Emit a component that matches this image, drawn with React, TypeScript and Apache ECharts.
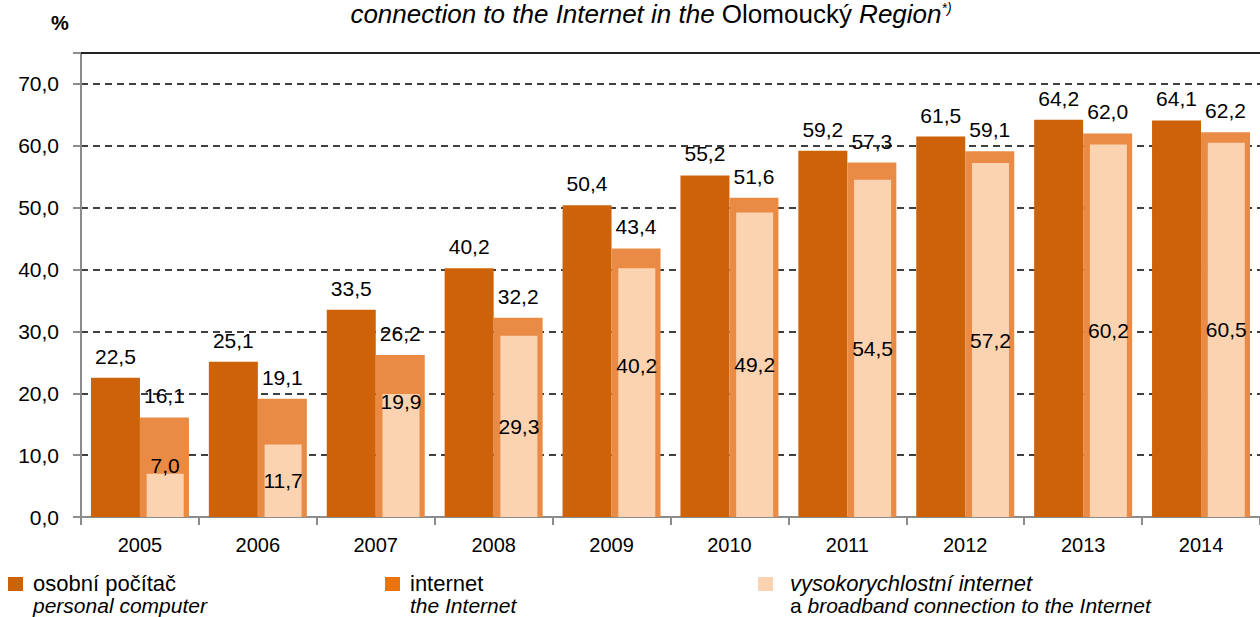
import React, { useEffect, useRef } from "react";
import * as echarts from "echarts";

const years = ["2005", "2006", "2007", "2008", "2009", "2010", "2011", "2012", "2013", "2014"];
const personalComputer = [22.5, 25.1, 33.5, 40.2, 50.4, 55.2, 59.2, 61.5, 64.2, 64.1];
const internet = [16.1, 19.1, 26.2, 32.2, 43.4, 51.6, 57.3, 59.1, 62.0, 62.2];
const broadband = [7.0, 11.7, 19.9, 29.3, 40.2, 49.2, 54.5, 57.2, 60.2, 60.5];

const legendCz = ["osobní počítač", "internet", "vysokorychlostní internet"];
const legendEn = ["personal computer", "the Internet", "broadband connection to the Internet"];

// label nudges for the broadband series (as in the original)
const broadbandLabelShift: Record<string, number> = { "2005": -30, "2007": -54, "2009": -27 };

const FONT = "'Liberation Sans', Arial, sans-serif";
const C_PC = "#CD6209";
const C_NET = "#E98B45";
const C_BB = "#FBD3B1";
const fmt = (v: number) => v.toFixed(1).replace(".", ",");

export default function App() {
  const ref = useRef<HTMLDivElement>(null);
  useEffect(() => {
    if (!ref.current) return;
    const chart = echarts.init(ref.current, null, { renderer: "svg" });
    const labelBase = { color: "#000", fontSize: 21, fontFamily: FONT, formatter: (p: any) => fmt(p.value) };
    const option: any = {
      animation: false,
      backgroundColor: "#fff",
      grid: { left: 81, top: 53, width: 1182, height: 464, containLabel: false },
      xAxis: [
        {
          type: "category",
          data: years,
          axisLine: { lineStyle: { color: "#8c8c8c", width: 2 } },
          axisTick: { show: true, length: 8, lineStyle: { color: "#8c8c8c", width: 2 } },
          axisLabel: { color: "#000", fontSize: 20, fontFamily: FONT, margin: 18 },
        },
        {
          type: "category",
          data: years,
          position: "top",
          axisLine: { lineStyle: { color: "#222", width: 2 } },
          axisTick: { show: false },
          axisLabel: { show: false },
        },
      ],
      yAxis: {
        type: "value",
        min: 0,
        max: 75,
        interval: 10,
        axisLine: { show: true, lineStyle: { color: "#8c8c8c", width: 2 } },
        axisTick: { show: true, length: 8, lineStyle: { color: "#8c8c8c", width: 2 } },
        axisLabel: {
          color: "#000",
          fontSize: 21,
          fontFamily: FONT,
          margin: 22,
          formatter: (v: number) => (v === 75 ? "" : fmt(v)),
        },
        splitLine: { lineStyle: { color: "#000", type: [7, 5], width: 1.5 } },
      },
      series: [
        {
          name: legendCz[0],
          type: "bar",
          data: personalComputer,
          barWidth: 49,
          barGap: "0%",
          itemStyle: { color: C_PC },
          label: { show: true, position: "top", distance: 11, ...labelBase },
        },
        {
          name: legendCz[1],
          type: "bar",
          data: internet,
          barWidth: 49,
          barGap: "0%",
          itemStyle: { color: C_NET },
          label: { show: true, position: "top", distance: 11, ...labelBase },
        },
        {
          name: "slot",
          type: "bar",
          xAxisIndex: 1,
          data: years.map(() => null),
          barWidth: 49,
          barGap: "3%",
          silent: true,
        },
        {
          name: legendCz[2],
          type: "bar",
          xAxisIndex: 1,
          barWidth: 37,
          barGap: "3%",
          z: 3,
          itemStyle: { color: C_BB },
          data: broadband.map((v, i) => {
            const shift = broadbandLabelShift[years[i]];
            return shift ? { value: v, label: { offset: [0, shift] } } : v;
          }),
          label: { show: true, position: "inside", ...labelBase },
        },
      ],
      graphic: [
        {
          type: "text",
          x: 651,
          y: 14,
          style: {
            text: "{i|connection to the Internet in the }{n|Olomoucký }{i|Region}{s|*)}",
            align: "center",
            verticalAlign: "middle",
            fill: "#000",
            rich: {
              i: { fontSize: 26, fontStyle: "italic", fontFamily: FONT, fill: "#000" },
              n: { fontSize: 26, fontFamily: FONT, fill: "#000" },
              s: { fontSize: 14, fontStyle: "italic", fontFamily: FONT, fill: "#000", padding: [0, 0, 12, 0] },
            },
          },
        },
        {
          type: "text",
          x: 60,
          y: 23,
          style: { text: "%", align: "center", verticalAlign: "middle", fontSize: 20, fontWeight: "bold", fontFamily: FONT, fill: "#000" },
        },
        { type: "rect", shape: { x: 8, y: 577, width: 15, height: 14 }, style: { fill: C_PC } },
        { type: "rect", shape: { x: 385, y: 577, width: 15, height: 14 }, style: { fill: "#E8730F" } },
        { type: "rect", shape: { x: 758, y: 577, width: 15, height: 14 }, style: { fill: C_BB } },
        {
          type: "text",
          x: 33,
          y: 583,
          style: { text: legendCz[0], verticalAlign: "middle", fontSize: 22, fontFamily: FONT, fill: "#000" },
        },
        {
          type: "text",
          x: 33,
          y: 605,
          style: { text: legendEn[0], verticalAlign: "middle", fontSize: 21, fontStyle: "italic", fontFamily: FONT, fill: "#000" },
        },
        {
          type: "text",
          x: 410,
          y: 583,
          style: { text: legendCz[1], verticalAlign: "middle", fontSize: 22, fontFamily: FONT, fill: "#000" },
        },
        {
          type: "text",
          x: 410,
          y: 605,
          style: { text: legendEn[1], verticalAlign: "middle", fontSize: 21, fontStyle: "italic", fontFamily: FONT, fill: "#000" },
        },
        {
          type: "text",
          x: 790,
          y: 583,
          style: { text: legendCz[2], verticalAlign: "middle", fontSize: 22, fontStyle: "italic", fontFamily: FONT, fill: "#000" },
        },
        {
          type: "text",
          x: 790,
          y: 605,
          style: {
            text: "{n|a }{i|" + legendEn[2] + "}",
            verticalAlign: "middle",
            fill: "#000",
            rich: {
              n: { fontSize: 21, fontFamily: FONT, fill: "#000" },
              i: { fontSize: 21, fontStyle: "italic", fontFamily: FONT, fill: "#000" },
            },
          },
        },
      ],
    };
    chart.setOption(option);
    return () => chart.dispose();
  }, []);
  return <div ref={ref} style={{ position: "absolute", left: 0, top: 0, width: 1260, height: 617 }} />;
}
